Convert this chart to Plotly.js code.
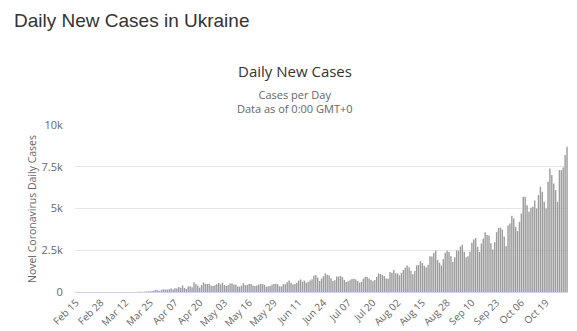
<!DOCTYPE html>
<html>
<head>
<meta charset="utf-8">
<script src="https://cdn.plot.ly/plotly-3.0.1.min.js"></script>
<style>html,body{margin:0;padding:0;background:#fff;}#chart{width:577px;height:331px;}</style>
</head>
<body>
<div id="chart"></div>
<script>
// First date of the series and daily values (Feb 15 .. Oct 30)
const startDate = "2020-02-15";
const febCases = [0,0,0,0,0,0,0,0,0,0,0,0,0,0,0];
const marCases = [0,0,1,0,0,0,0,0,0,0,0,0,2,0,0,4,7,2,10,16,6,26,34,29,43,60,92,138,107,68,131];
const aprCases = [159,148,149,172,216,156,223,206,304,253,392,244,185,326,346,286,578,477,392,261,418,578,492,477,477,392,366,401,467,540];
const mayCases = [455,550,418,363,410,504,507,456,433,335,325,375,528,409,416,477,486,391,353,392,439,484,474,434,317,339,354,456,477,493,458];
const junCases = [339,342,481,463,583,683,549,449,472,558,683,753,614,685,558,608,685,758,969,1005,865,659,808,944,1109,1030,982,830,658,709];
const julCases = [923,932,964,890,726,592,637,707,781,787,755,654,560,605,807,915,902,815,734,650,712,903,1106,1079,1026,960,801,789,1197,1159,1315];
const augCases = [1120,1108,1000,1134,1318,1453,1592,1489,1271,1064,1258,1592,1617,1847,1737,1568,1467,1639,2134,2125,2328,2481,1926,1753,1580,1967,2348,2468,2394,2139,1796];
const sepCases = [2077,2495,2465,2723,2836,2409,2086,2141,2411,2955,3144,3228,2703,2395,2905,3198,3584,3408,3388,2920,2546,2977,3585,3834,3860,3738,3318,2736,3980,4100];
const octCases = [4560,4400,3900,3650,4200,4700,5700,5700,5200,4800,5050,5100,5480,5000,5800,6300,6000,5400,5000,6600,7400,7000,6500,6100,5400,7300,7300,7450,8200,8700];
const tickLabels = ["Feb 15","Feb 28","Mar 12","Mar 25","Apr 07","Apr 20","May 03","May 16","May 29","Jun 11","Jun 24","Jul 07","Jul 20","Aug 02","Aug 15","Aug 28","Sep 10","Sep 23","Oct 06","Oct 19"];
const yTickVals = [0,2500,5000,7500,10000];
const yTickText = ["0","2.5k","5k","7.5k","10k"];

const cases = [].concat(febCases, marCases, aprCases, mayCases, junCases, julCases, augCases, sepCases, octCases);
const months = ["Jan","Feb","Mar","Apr","May","Jun","Jul","Aug","Sep","Oct","Nov","Dec"];
const dates = [];
const d0 = new Date(startDate + "T00:00:00Z");
for (let i = 0; i < cases.length; i++) {
  const d = new Date(d0.getTime() + i * 86400000);
  const dd = String(d.getUTCDate()).padStart(2, "0");
  dates.push(months[d.getUTCMonth()] + " " + dd);
}

const txt = "#666666";
const trace = {
  type: "bar", x: dates, y: cases,
  marker: {color: "#9c9c9c", line: {width: 0}},
  hoverinfo: "skip"
};
const layout = {
  width: 577, height: 331,
  margin: {l: 75, r: 9, t: 125, b: 39, pad: 0},
  paper_bgcolor: "#ffffff", plot_bgcolor: "#ffffff",
  bargap: 0.25,
  showlegend: false,
  font: {family: "Open Sans, sans-serif", size: 11, color: txt},
  xaxis: {
    type: "category",
    tickmode: "array", tickvals: tickLabels, ticktext: tickLabels,
    tickangle: -45,
    tickfont: {family: "Open Sans, sans-serif", size: 10, color: txt},
    showgrid: false, zeroline: false,
    showline: true, linecolor: "#ccd6eb", linewidth: 1,
    ticks: "", fixedrange: true
  },
  yaxis: {
    range: [0, 10000],
    tickmode: "array", tickvals: yTickVals, ticktext: yTickText,
    tickfont: {family: "Open Sans, sans-serif", size: 11, color: txt},
    showgrid: true, gridcolor: "#e6e6e6", gridwidth: 1,
    zeroline: false, showline: false,
    ticks: "outside", ticklen: 9, tickcolor: "rgba(0,0,0,0)",
    fixedrange: true
  },
  annotations: [
    {text: "Daily New Cases in Ukraine", xref: "paper", yref: "paper",
     x: (12 - 75) / 493, y: 1 + (125 - 20) / 167, xanchor: "left", yanchor: "middle",
     showarrow: false, font: {family: "Liberation Sans, Arial, sans-serif", size: 19, color: "#333333"}},
    {text: "Daily New Cases", xref: "paper", yref: "paper",
     x: (295 - 75) / 493, y: 1 + (125 - 71) / 167, xanchor: "center", yanchor: "middle",
     showarrow: false, font: {family: "Open Sans, sans-serif", size: 15, color: "#333333"}},
    {text: "Cases per Day<br>Data as of 0:00 GMT+0", xref: "paper", yref: "paper",
     x: (295 - 75) / 493, y: 1 + (125 - 101) / 167, xanchor: "center", yanchor: "middle",
     showarrow: false, font: {family: "Open Sans, sans-serif", size: 11, color: txt}},
    {text: "Novel Coronavirus Daily Cases", xref: "paper", yref: "paper", textangle: -90,
     x: (32 - 75) / 493, y: (292 - 209) / 167, xanchor: "center", yanchor: "middle",
     showarrow: false, font: {family: "Open Sans, sans-serif", size: 10.5, color: txt}}
  ]
};
Plotly.newPlot("chart", [trace], layout, {displayModeBar: false, staticPlot: true});
</script>
</body>
</html>
